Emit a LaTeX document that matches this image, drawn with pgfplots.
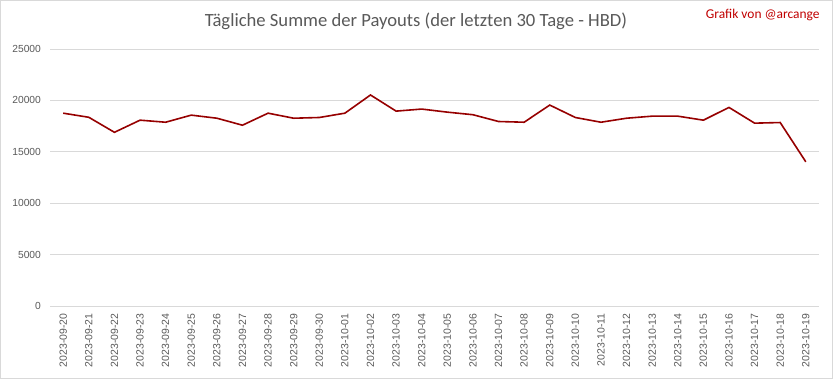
\documentclass[border=0pt]{standalone}
\usepackage{pgfplots}
\pgfplotsset{compat=1.18}
\usepackage{fontspec}
\setmainfont{Carlito}
\newfontfamily\arialf{Liberation Sans}
\definecolor{lineRed}{RGB}{150,0,0}
\definecolor{credRed}{RGB}{192,0,0}
\definecolor{tickGray}{RGB}{89,89,89}
\definecolor{gridGray}{RGB}{217,217,217}
\definecolor{titleGray}{RGB}{89,89,89}
\begin{document}
\begin{tikzpicture}[x=1bp,y=1bp]
\draw[gridGray,line width=0.8bp] (0.5,0.5) rectangle (832.5,378.5);
\node[font=\fontsize{18.7}{21}\selectfont,text=titleGray,anchor=base] at (416,352) {Tägliche Summe der Payouts (der letzten 30 Tage - HBD)};
\node[font=\fontsize{13.5}{15}\selectfont,text=credRed,anchor=base east] at (823,360) {Grafik von @arcange};
\begin{axis}[
  at={(50.5bp,73bp)}, anchor=south west,
  scale only axis, width=768bp, height=257bp,
  xmin=-0.5, xmax=29.5, ymin=0, ymax=25000,
  ytick={0,5000,10000,15000,20000,25000},
  xtick={0,...,29},
  xticklabels={2023-09-20,2023-09-21,2023-09-22,2023-09-23,2023-09-24,2023-09-25,2023-09-26,2023-09-27,2023-09-28,2023-09-29,2023-09-30,2023-10-01,2023-10-02,2023-10-03,2023-10-04,2023-10-05,2023-10-06,2023-10-07,2023-10-08,2023-10-09,2023-10-10,2023-10-11,2023-10-12,2023-10-13,2023-10-14,2023-10-15,2023-10-16,2023-10-17,2023-10-18,2023-10-19},
  x tick label style={rotate=90, anchor=east, font=\arialf\fontsize{10.5}{12}\selectfont, text=tickGray},
  y tick label style={font=\arialf\fontsize{10.3}{12}\selectfont, text=tickGray},
  /pgf/number format/assume math mode=true,
  scaled y ticks=false,
  yticklabel style={/pgf/number format/1000 sep={}},
  ymajorgrids, grid style={gridGray, line width=0.8bp},
  axis x line*=bottom, axis y line*=left,
  x axis line style={gridGray, line width=0.8bp, -},
  y axis line style={draw=none},
  major tick length=0pt,
  xticklabel shift=4bp, yticklabel shift=6bp,
  clip=false,
]
\addplot[lineRed, line width=1.6bp, mark=none] coordinates {
(0,18750) (1,18350) (2,16890) (3,18070) (4,17870) (5,18560) (6,18260) (7,17580) (8,18750) (9,18260)
(10,18330) (11,18750) (12,20520) (13,18950) (14,19150) (15,18850) (16,18600) (17,17940) (18,17870) (19,19540)
(20,18330) (21,17870) (22,18260) (23,18460) (24,18460) (25,18070) (26,19310) (27,17780) (28,17840) (29,14020)
};
\end{axis}
\end{tikzpicture}
\end{document}
